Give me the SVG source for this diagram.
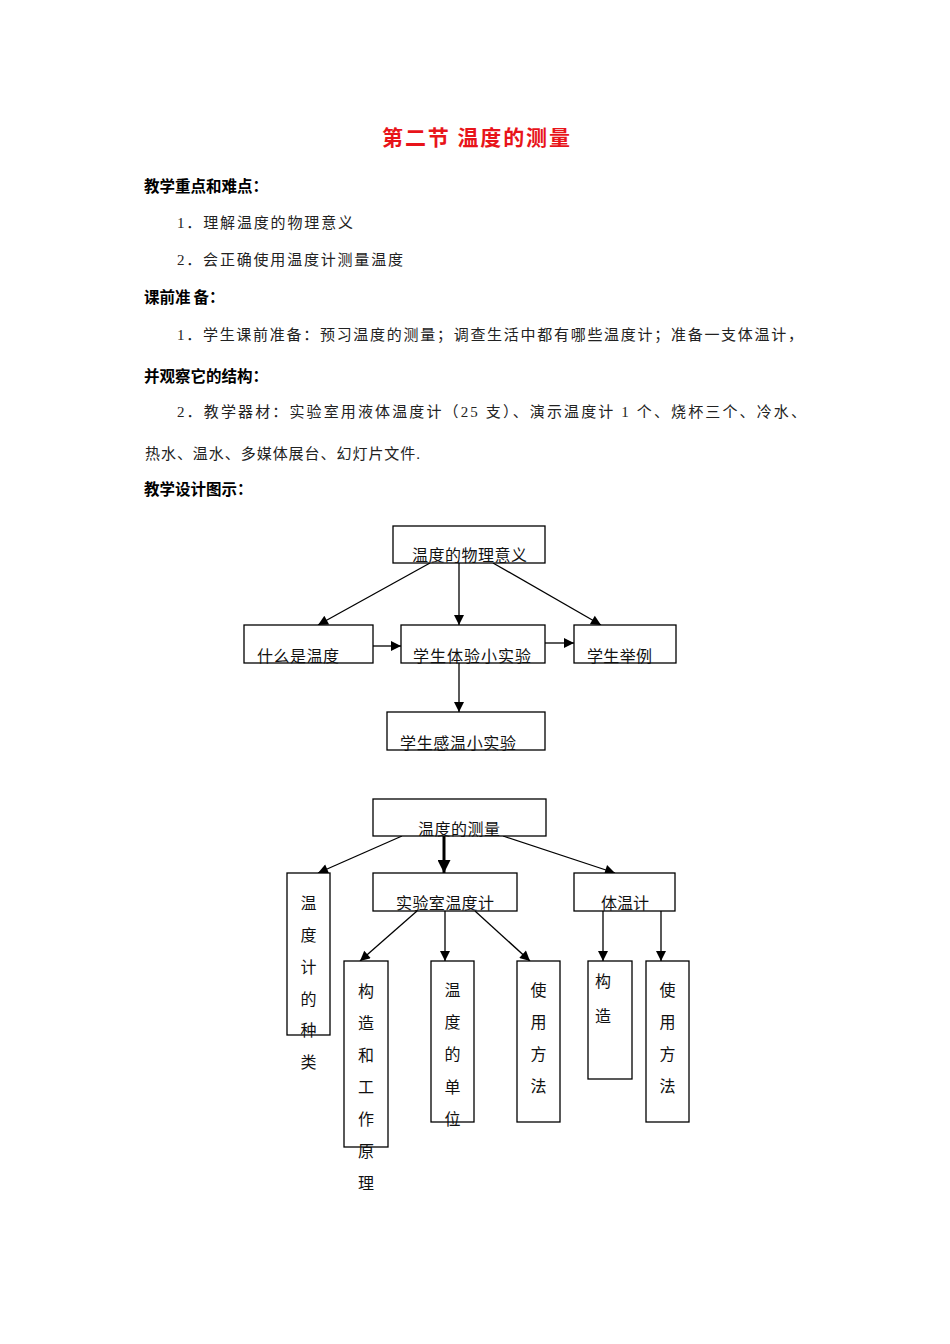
<svg xmlns="http://www.w3.org/2000/svg" width="950" height="1344" viewBox="0 0 950 1344">
<style>
.title{font-family:"Noto Sans CJK SC",sans-serif;font-size:21px;font-weight:bold;fill:#e8141a}
.head{font-family:"Noto Sans CJK SC",sans-serif;font-size:15.5px;font-weight:bold;fill:#000}
.body{font-family:"Liberation Serif","Noto Sans CJK SC",serif;font-size:15px;fill:#222}
.lbl{font-family:"Noto Sans CJK SC",sans-serif;font-size:16px;fill:#111}
.vl{font-family:"Noto Sans CJK SC",sans-serif;font-size:16px;fill:#111;text-anchor:middle}
.box{fill:#fff;stroke:#000;stroke-width:1.3}
.con{stroke:#000;stroke-width:1.3;fill:none;marker-end:url(#ah)}
.thick{stroke:#000;stroke-width:3;fill:none;marker-end:url(#ahb)}
</style>
<defs>
<marker id="ah" viewBox="0 0 10 10" refX="10" refY="5" markerWidth="11" markerHeight="10" markerUnits="userSpaceOnUse" orient="auto"><path d="M0,0 L10,5 L0,10 z" fill="#000"/></marker>
<marker id="ahb" viewBox="0 0 10 10" refX="10" refY="5" markerWidth="13" markerHeight="13" markerUnits="userSpaceOnUse" orient="auto"><path d="M0,0 L10,5 L0,10 z" fill="#000"/></marker>
</defs>
<rect width="950" height="1344" fill="#fff"/>

<g id="text-content">
<text class="title" x="382" y="145" textLength="188" lengthAdjust="spacing">第二节 温度的测量</text>
<text class="head" x="144" y="192">教学重点和难点：</text>
<text class="body" x="177" y="228" textLength="176" lengthAdjust="spacing">1．理解温度的物理意义</text>
<text class="body" x="177" y="265" textLength="226" lengthAdjust="spacing">2．会正确使用温度计测量温度</text>
<text class="head" x="144" y="303">课前准<tspan dx="3">备：</tspan></text>
<text class="body" x="177" y="340" textLength="626" lengthAdjust="spacing">1．学生课前准备：预习温度的测量；调查生活中都有哪些温度计；准备一支体温计，</text>
<text class="head" x="144" y="382">并观察它的结构：</text>
<text class="body" x="177" y="417" textLength="629" lengthAdjust="spacing">2．教学器材：实验室用液体温度计（25 支）、演示温度计 1 个、烧杯三个、冷水、</text>
<text class="body" x="145" y="459" textLength="275" lengthAdjust="spacing">热水、温水、多媒体展台、幻灯片文件.</text>
<text class="head" x="144" y="495">教学设计图示：</text>
</g>

<g id="connectors">
<line class="con" x1="430" y1="563" x2="318" y2="625"/>
<line class="con" x1="459" y1="563" x2="459" y2="625"/>
<line class="con" x1="493" y1="563" x2="601" y2="625"/>
<line class="con" x1="373" y1="646" x2="401" y2="646"/>
<line class="con" x1="545" y1="643" x2="574" y2="643"/>
<line class="con" x1="459" y1="663" x2="459" y2="712"/>
<line class="con" x1="402" y1="836" x2="318" y2="873"/>
<line class="thick" x1="444" y1="836" x2="444" y2="873"/>
<line class="con" x1="503" y1="836" x2="615" y2="873"/>
<line class="con" x1="417" y1="911" x2="360" y2="961"/>
<line class="con" x1="445" y1="911" x2="445" y2="961"/>
<line class="con" x1="475" y1="911" x2="530" y2="961"/>
<line class="con" x1="603" y1="911" x2="603" y2="961"/>
<line class="con" x1="661" y1="911" x2="661" y2="961"/>
</g>

<g id="n-wuli">
<rect class="box" x="393" y="526" width="152" height="37"/>
<text class="lbl" x="412" y="561" textLength="115" lengthAdjust="spacing">温度的物理意义</text>
</g>
<g id="n-shenme">
<rect class="box" x="244" y="625" width="129" height="38"/>
<text class="lbl" x="257" y="661.5" textLength="82" lengthAdjust="spacing">什么是温度</text>
</g>
<g id="n-tiyan">
<rect class="box" x="401" y="625" width="144" height="38"/>
<text class="lbl" x="413" y="661.5" textLength="118" lengthAdjust="spacing">学生体验小实验</text>
</g>
<g id="n-jul">
<rect class="box" x="574" y="625" width="102" height="38"/>
<text class="lbl" x="587" y="661.5" textLength="65" lengthAdjust="spacing">学生举例</text>
</g>
<g id="n-ganwen">
<rect class="box" x="387" y="712" width="158" height="38"/>
<text class="lbl" x="400" y="748.5" textLength="116" lengthAdjust="spacing">学生感温小实验</text>
</g>

<g id="n-celiang">
<rect class="box" x="373" y="799" width="173" height="37"/>
<text class="lbl" x="418" y="834.5" textLength="82" lengthAdjust="spacing">温度的测量</text>
</g>
<g id="n-zhonglei">
<rect class="box" x="287" y="873" width="43" height="162"/>
<text class="vl" x="308.5" y="909">温</text>
<text class="vl" x="308.5" y="941">度</text>
<text class="vl" x="308.5" y="973">计</text>
<text class="vl" x="308.5" y="1005">的</text>
<text class="vl" x="308.5" y="1036">种</text>
<text class="vl" x="308.5" y="1068">类</text>
</g>
<g id="n-shiyanshi">
<rect class="box" x="373" y="873" width="144" height="38"/>
<text class="lbl" x="396" y="909" textLength="98" lengthAdjust="spacing">实验室温度计</text>
</g>
<g id="n-tiwenji">
<rect class="box" x="574" y="873" width="101" height="38"/>
<text class="lbl" x="601" y="909" textLength="48" lengthAdjust="spacing">体温计</text>
</g>
<g id="n-gouzao1">
<rect class="box" x="344" y="961" width="44" height="186"/>
<text class="vl" x="366" y="997">构</text>
<text class="vl" x="366" y="1029">造</text>
<text class="vl" x="366" y="1061">和</text>
<text class="vl" x="366" y="1093">工</text>
<text class="vl" x="366" y="1125">作</text>
<text class="vl" x="366" y="1157">原</text>
<text class="vl" x="366" y="1189">理</text>
</g>
<g id="n-danwei">
<rect class="box" x="431" y="961" width="43" height="161"/>
<text class="vl" x="452.5" y="996">温</text>
<text class="vl" x="452.5" y="1028">度</text>
<text class="vl" x="452.5" y="1060">的</text>
<text class="vl" x="452.5" y="1093">单</text>
<text class="vl" x="452.5" y="1125">位</text>
</g>
<g id="n-fangfa1">
<rect class="box" x="517" y="961" width="43" height="161"/>
<text class="vl" x="538.5" y="996">使</text>
<text class="vl" x="538.5" y="1028">用</text>
<text class="vl" x="538.5" y="1060">方</text>
<text class="vl" x="538.5" y="1092">法</text>
</g>
<g id="n-gouzao2">
<rect class="box" x="588" y="961" width="44" height="118"/>
<text class="vl" x="603" y="987">构</text>
<text class="vl" x="603" y="1022">造</text>
</g>
<g id="n-fangfa2">
<rect class="box" x="646" y="961" width="43" height="161"/>
<text class="vl" x="667.5" y="996">使</text>
<text class="vl" x="667.5" y="1028">用</text>
<text class="vl" x="667.5" y="1060">方</text>
<text class="vl" x="667.5" y="1092">法</text>
</g>
</svg>
